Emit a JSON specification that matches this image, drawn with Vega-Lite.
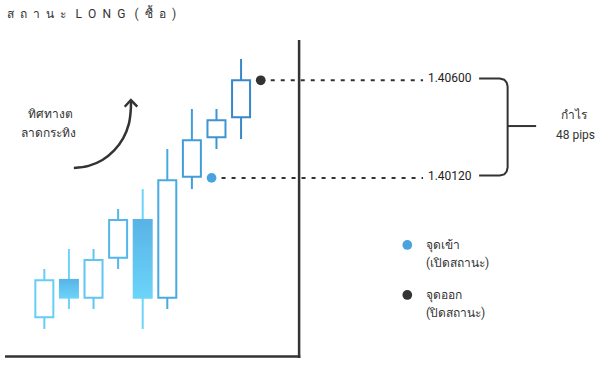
{
  "$schema": "https://vega.github.io/schema/vega-lite/v6.json",
  "width": 610,
  "height": 370,
  "padding": 0,
  "autosize": {"type": "fit", "contains": "padding"},
  "background": "white",
  "view": {"stroke": null},
  "config": {"text": {"font": "Roboto", "fontSize": 12, "color": "#333333"}},
  "datasets": {
    "candles": [
      {"i": 1, "open": 1.39434, "high": 1.39672, "low": 1.39377, "close": 1.39616},
      {"i": 2, "open": 1.39623, "high": 1.39770, "low": 1.39475, "close": 1.39526},
      {"i": 3, "open": 1.39531, "high": 1.39770, "low": 1.39475, "close": 1.39716},
      {"i": 4, "open": 1.39727, "high": 1.39967, "low": 1.39672, "close": 1.39913},
      {"i": 5, "open": 1.39918, "high": 1.40065, "low": 1.39377, "close": 1.39526},
      {"i": 6, "open": 1.39531, "high": 1.40262, "low": 1.39475, "close": 1.40108},
      {"i": 7, "open": 1.40126, "high": 1.40459, "low": 1.40065, "close": 1.40305},
      {"i": 8, "open": 1.40320, "high": 1.40459, "low": 1.40262, "close": 1.40403},
      {"i": 9, "open": 1.40418, "high": 1.40705, "low": 1.40311, "close": 1.40600}
    ],
    "points": [
      {"kind": "entry", "i": 7.8, "p": 1.40120},
      {"kind": "exit", "i": 9.8, "p": 1.40600}
    ],
    "bracket": [
      {"o": 1, "i": 18.68, "p": 1.40609},
      {"o": 2, "i": 19.52, "p": 1.40609},
      {"o": 3, "i": 19.70, "p": 1.40603},
      {"o": 4, "i": 19.80, "p": 1.40589},
      {"o": 5, "i": 19.84, "p": 1.40570},
      {"o": 6, "i": 19.84, "p": 1.40171},
      {"o": 7, "i": 19.80, "p": 1.40151},
      {"o": 8, "i": 19.70, "p": 1.40137},
      {"o": 9, "i": 19.52, "p": 1.40132},
      {"o": 10, "i": 18.68, "p": 1.40132}
    ],
    "arrow": [
      {"o": 1, "i": 2.2, "p": 1.40169},
      {"o": 2, "i": 2.8, "p": 1.40179},
      {"o": 3, "i": 3.36, "p": 1.40208},
      {"o": 4, "i": 3.84, "p": 1.40255},
      {"o": 5, "i": 4.208, "p": 1.40316},
      {"o": 6, "i": 4.44, "p": 1.40387},
      {"o": 7, "i": 4.52, "p": 1.40464},
      {"o": 8, "i": 4.52, "p": 1.40493}
    ],
    "chevron": [
      {"o": 1, "i": 4.268, "p": 1.40470},
      {"o": 2, "i": 4.52, "p": 1.40503},
      {"o": 3, "i": 4.78, "p": 1.40470}
    ]
  },
  "layer": [
    {
      "data": {"values": [{}]},
      "mark": {"type": "rule", "color": "#333333", "strokeWidth": 2.5},
      "encoding": {
        "x": {"datum": 11.36, "type": "quantitative", "axis": null, "scale": {"domain": [-0.6, 23.8], "nice": false, "zero": false}},
        "y": {"datum": 1.40798, "type": "quantitative", "axis": null, "scale": {"domain": [1.39175, 1.40995], "nice": false, "zero": false}},
        "y2": {"datum": 1.39234}
      }
    },
    {
      "data": {"values": [{}]},
      "mark": {"type": "rule", "color": "#333333", "strokeWidth": 2.5},
      "encoding": {
        "x": {"datum": -0.6, "type": "quantitative"},
        "x2": {"datum": 11.41},
        "y": {"datum": 1.39241, "type": "quantitative"}
      }
    },
    {
      "data": {"name": "candles"},
      "mark": {"type": "rule", "strokeWidth": 2},
      "encoding": {
        "x": {"field": "i", "type": "quantitative"},
        "y": {"field": "low", "type": "quantitative"},
        "y2": {"field": "high"},
        "stroke": {"field": "close", "type": "quantitative", "legend": null, "scale": {"domain": [1.3952, 1.4070], "range": ["#6cd4f9", "#3580c5"], "clamp": true}}
      }
    },
    {
      "data": {"name": "candles"},
      "transform": [{"filter": "datum.close >= datum.open"}],
      "mark": {"type": "bar", "size": 18, "fill": "white", "strokeWidth": 2},
      "encoding": {
        "x": {"field": "i", "type": "quantitative"},
        "y": {"field": "open", "type": "quantitative"},
        "y2": {"field": "close"},
        "stroke": {"field": "close", "type": "quantitative", "legend": null}
      }
    },
    {
      "data": {"name": "candles"},
      "transform": [{"filter": "datum.close < datum.open"}],
      "mark": {
        "type": "bar",
        "size": 20,
        "fill": {"gradient": "linear", "x1": 0, "y1": 0, "x2": 0, "y2": 1, "stops": [{"offset": 0, "color": "#58b3e6"}, {"offset": 1, "color": "#6cd4f9"}]}
      },
      "encoding": {
        "x": {"field": "i", "type": "quantitative"},
        "y": {"field": "open", "type": "quantitative"},
        "y2": {"field": "close"}
      }
    },
    {
      "data": {"name": "points"},
      "mark": {"type": "rule", "color": "#333333", "strokeWidth": 2, "strokeDash": [4, 6]},
      "encoding": {
        "x": {"field": "i", "type": "quantitative"},
        "x2": {"datum": 16.4},
        "y": {"field": "p", "type": "quantitative"}
      }
    },
    {
      "data": {"name": "points"},
      "mark": {"type": "point", "filled": true, "opacity": 1, "size": 95, "shape": "circle"},
      "encoding": {
        "x": {"field": "i", "type": "quantitative"},
        "y": {"field": "p", "type": "quantitative"},
        "color": {"field": "kind", "type": "nominal", "legend": null, "scale": {"domain": ["entry", "exit"], "range": ["#4aa3df", "#333333"]}}
      }
    },
    {
      "data": {"name": "points"},
      "mark": {"type": "text", "align": "left", "baseline": "middle", "dy": -2, "color": "#222222"},
      "encoding": {
        "x": {"datum": 16.6, "type": "quantitative"},
        "y": {"field": "p", "type": "quantitative"},
        "text": {"field": "p", "type": "quantitative", "format": ".5f"}
      }
    },
    {
      "data": {"name": "bracket"},
      "mark": {"type": "line", "color": "#333333", "strokeWidth": 2},
      "encoding": {
        "x": {"field": "i", "type": "quantitative"},
        "y": {"field": "p", "type": "quantitative"},
        "order": {"field": "o", "type": "quantitative"}
      }
    },
    {
      "data": {"values": [{}]},
      "mark": {"type": "rule", "color": "#333333", "strokeWidth": 2},
      "encoding": {
        "x": {"datum": 19.84, "type": "quantitative"},
        "x2": {"datum": 21.0},
        "y": {"datum": 1.40375, "type": "quantitative"}
      }
    },
    {
      "data": {"values": [{}]},
      "mark": {"type": "text", "align": "center", "baseline": "middle", "text": "กำไร"},
      "encoding": {
        "x": {"datum": 22.52, "type": "quantitative"},
        "y": {"datum": 1.40429, "type": "quantitative"}
      }
    },
    {
      "data": {"values": [{}]},
      "mark": {"type": "text", "align": "center", "baseline": "middle", "text": "48 pips"},
      "encoding": {
        "x": {"datum": 22.6, "type": "quantitative"},
        "y": {"datum": 1.40331, "type": "quantitative"}
      }
    },
    {
      "data": {"values": [{}]},
      "mark": {"type": "point", "filled": true, "opacity": 1, "size": 95, "shape": "circle", "color": "#4aa3df"},
      "encoding": {
        "x": {"datum": 15.76, "type": "quantitative"},
        "y": {"datum": 1.39790, "type": "quantitative"}
      }
    },
    {
      "data": {"values": [{}]},
      "mark": {"type": "point", "filled": true, "opacity": 1, "size": 95, "shape": "circle", "color": "#333333"},
      "encoding": {
        "x": {"datum": 15.76, "type": "quantitative"},
        "y": {"datum": 1.39544, "type": "quantitative"}
      }
    },
    {
      "data": {"values": [{}]},
      "mark": {"type": "text", "align": "left", "baseline": "middle", "text": "จุดเข้า"},
      "encoding": {
        "x": {"datum": 16.52, "type": "quantitative"},
        "y": {"datum": 1.39790, "type": "quantitative"}
      }
    },
    {
      "data": {"values": [{}]},
      "mark": {"type": "text", "align": "left", "baseline": "middle", "text": "(เปิดสถานะ)"},
      "encoding": {
        "x": {"datum": 16.52, "type": "quantitative"},
        "y": {"datum": 1.39699, "type": "quantitative"}
      }
    },
    {
      "data": {"values": [{}]},
      "mark": {"type": "text", "align": "left", "baseline": "middle", "text": "จุดออก"},
      "encoding": {
        "x": {"datum": 16.52, "type": "quantitative"},
        "y": {"datum": 1.39544, "type": "quantitative"}
      }
    },
    {
      "data": {"values": [{}]},
      "mark": {"type": "text", "align": "left", "baseline": "middle", "text": "(ปิดสถานะ)"},
      "encoding": {
        "x": {"datum": 16.52, "type": "quantitative"},
        "y": {"datum": 1.39453, "type": "quantitative"}
      }
    },
    {
      "data": {"name": "arrow"},
      "mark": {"type": "line", "color": "#333333", "strokeWidth": 2.5, "interpolate": "catmull-rom"},
      "encoding": {
        "x": {"field": "i", "type": "quantitative"},
        "y": {"field": "p", "type": "quantitative"},
        "order": {"field": "o", "type": "quantitative"}
      }
    },
    {
      "data": {"name": "chevron"},
      "mark": {"type": "line", "color": "#333333", "strokeWidth": 2.5},
      "encoding": {
        "x": {"field": "i", "type": "quantitative"},
        "y": {"field": "p", "type": "quantitative"},
        "order": {"field": "o", "type": "quantitative"}
      }
    },
    {
      "data": {"values": [{}]},
      "mark": {"type": "text", "align": "center", "baseline": "middle", "text": "ทิศทางต"},
      "encoding": {
        "x": {"datum": 1.24, "type": "quantitative"},
        "y": {"datum": 1.40434, "type": "quantitative"}
      }
    },
    {
      "data": {"values": [{}]},
      "mark": {"type": "text", "align": "center", "baseline": "middle", "text": "ลาดกระทิง"},
      "encoding": {
        "x": {"datum": 1.18, "type": "quantitative"},
        "y": {"datum": 1.40341, "type": "quantitative"}
      }
    },
    {
      "data": {"values": [{}]},
      "mark": {"type": "text", "align": "left", "baseline": "middle", "text": "ส\u2002ถ\u2002า\u2002น\u2002ะ\u2002\u00a0L\u2002O\u2002N\u2002G\u2002\u00a0(\u2002ซื้\u2002อ\u2002)"},
      "encoding": {
        "x": {"datum": -0.52, "type": "quantitative"},
        "y": {"datum": 1.40926, "type": "quantitative"}
      }
    }
  ]
}
